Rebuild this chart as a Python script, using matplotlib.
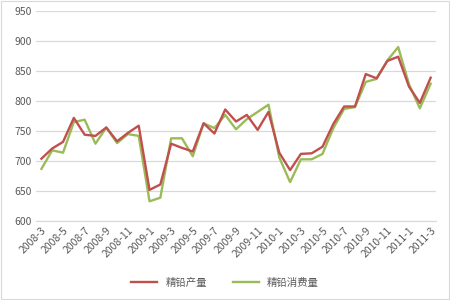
import matplotlib
matplotlib.use("Agg")
import matplotlib.pyplot as plt

plt.rcParams['font.family'] = ['Noto Sans CJK SC', 'DejaVu Sans']

# 月份 2008-3 ~ 2011-3
months = [f"{y}-{m}" for y, m in
          [(2008, m) for m in range(3, 13)] +
          [(2009, m) for m in range(1, 13)] +
          [(2010, m) for m in range(1, 13)] +
          [(2011, m) for m in range(1, 4)]]

# 精铅产量
production = [704, 721, 732, 772, 744, 742, 756, 733, 747, 759,
              652, 661, 729, 722, 716, 763, 746, 786, 766, 777,
              752, 782, 714, 685, 712, 713, 724, 762, 791, 791,
              845, 838, 867, 874, 824, 797, 839]
# 精铅消费量
consumption = [687, 718, 714, 765, 769, 729, 756, 730, 745, 742,
               633, 639, 738, 738, 708, 763, 755, 777, 753, 770,
               782, 794, 706, 665, 703, 703, 712, 755, 787, 790,
               832, 837, 868, 890, 828, 788, 829]

series_names = ["精铅产量", "精铅消费量"]
colors = ["#C0504D", "#9BBB59"]

fig = plt.figure(figsize=(4.5, 3), dpi=100)
ax = fig.add_axes([0.08, 0.263, 0.889, 0.7])

x = list(range(len(months)))
ax.plot(x, production, color=colors[0], lw=1.7, label=series_names[0], zorder=3)
ax.plot(x, consumption, color=colors[1], lw=1.7, label=series_names[1], zorder=2)

ax.set_ylim(600, 950)
ax.set_yticks(range(600, 951, 50))
ax.set_xlim(-0.5, len(months) - 0.5)
ax.set_xticks(x[::2])
ax.set_xticklabels(months[::2], rotation=45, ha='right', rotation_mode='anchor')
ax.grid(axis='y', color='#D9D9D9', lw=0.9)
ax.set_axisbelow(True)
for s in ['top', 'right', 'left']:
    ax.spines[s].set_visible(False)
ax.spines['bottom'].set_color('#D9D9D9')
ax.tick_params(axis='both', length=0, labelsize=7.5, labelcolor='#595959', pad=3)

fig.legend(loc='center', bbox_to_anchor=(0.5, 0.057), ncol=2, frameon=False,
           fontsize=7.5, labelcolor='#595959', handlelength=2.5, columnspacing=2.5)

# 外框
fig.patches.append(plt.Rectangle((0.002, 0.003), 0.996, 0.994, transform=fig.transFigure,
                                 fill=False, edgecolor='#D9D9D9', lw=0.8))

fig.savefig("out.png", dpi=100)
